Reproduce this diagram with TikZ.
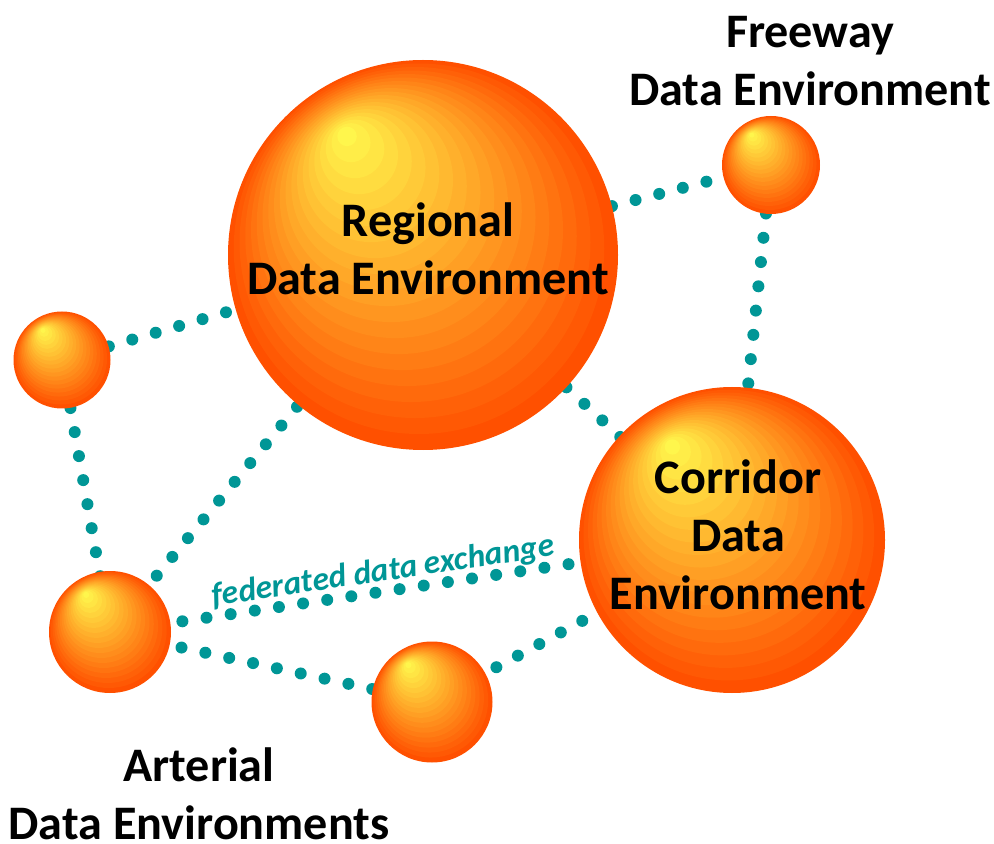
\documentclass[tikz,border=0pt]{standalone}
\usepackage{fontspec}
\setmainfont{Carlito}
\pgfdeclarelayer{background}
\pgfsetlayers{background,main}
\definecolor{orbhi}{RGB}{255,255,80}
\definecolor{orblo}{RGB}{255,80,0}
\definecolor{dotteal}{RGB}{0,150,150}
% banded sphere: name, x, y, radius (px)
\newcommand{\drawsphere}[4]{%
  \foreach \k in {20,...,1} {
    \pgfmathsetmacro\t{\k/20}
    \pgfmathsetmacro\p{100*\t}
    \fill[orblo!\p!orbhi] ({#2-0.41*#4*(1-\t)},{#3-0.64*#4*(1-\t)}) circle[radius={#4*\t*0.02cm}];
  }
  \node[hub, minimum size={2*#4*0.02cm}] (#1) at (#2,#3) {};
}
\begin{document}
\begin{tikzpicture}[
    x=0.02cm, y=-0.02cm,
    hub/.style={circle, inner sep=0pt},
    link/.style={line width=0.24cm, line cap=round, dash pattern=on 0pt off 0.488cm, dotteal},
    lbl/.style={font=\bfseries\fontsize{27.4}{33}\selectfont, align=center, inner sep=0pt},
  ]
  \useasboundingbox (0,0) rectangle (994,844);
  \drawsphere{reg}{423}{255}{195}
  \drawsphere{fwy}{771}{165}{49}
  \drawsphere{lft}{62}{360}{48.5}
  \drawsphere{cor}{732}{540}{153}
  \drawsphere{art}{110}{632}{61}
  \drawsphere{bot}{432}{702}{60.5}

  \node[lbl] (regtxt) at (428,249) {Regional\\Data Environment};
  \node[lbl] (fwytxt) at (810,61) {Freeway\\Data Environment};
  \node[lbl] (cortxt) at (738,535) {Corridor\\Data\\Environment};
  \node[lbl] (arttxt) at (199,794) {Arterial\\Data Environments};

  \begin{pgfonlayer}{background}
    \draw[link] (lft.center) -- (reg.center);
    \draw[link] (reg.center) -- (fwy.center);
    \draw[link] (fwy.center) -- (cor.center);
    \draw[link] (reg.center) -- (cor.center);
    \draw[link] (lft.center) -- (art.center);
    \draw[link] (art.center) -- (reg.center);
    \draw[link] (art.center) -- (cor.center)
      node[pos=0.444, sloped, yshift=11pt, font=\bfseries\itshape\fontsize{19}{23}\selectfont, text=dotteal] (fedtxt) {federated data exchange};
    \draw[link] (art.center) -- (bot.center);
    \draw[link] (bot.center) -- (cor.center);
  \end{pgfonlayer}
\end{tikzpicture}
\end{document}
